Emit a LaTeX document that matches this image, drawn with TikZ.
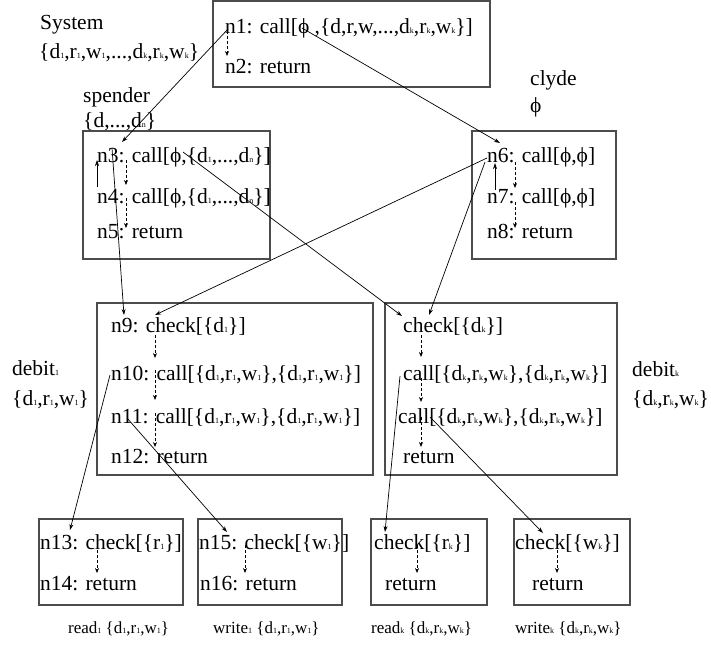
\documentclass[tikz,border=0pt]{standalone}
\usepackage{fontspec}
\setmainfont{Liberation Serif}
\usetikzlibrary{arrows.meta,calc}
\newcommand\sbx[1]{{\fontsize{8}{8}\selectfont #1}}
\newcommand\ph{ϕ}
\begin{document}
\begin{tikzpicture}[x=1pt,y=-1pt,
  txt/.style={anchor=base west,inner sep=0pt,font=\fontsize{21.5}{24}\selectfont},
  small/.style={anchor=base west,inner sep=0pt,font=\fontsize{17}{19}\selectfont},
  frame/.style={draw=black!70,line width=1.1pt,anchor=north west,inner sep=0pt,outer sep=0pt},
  link/.style={-{Stealth[length=6pt,width=4pt]},line width=0.7pt},
  seq/.style={-{Stealth[length=5pt,width=4pt]},dash pattern=on 3pt off 2pt,line width=0.7pt}]
\useasboundingbox (0,0) rectangle (711,646);

% boxes
\node[frame,minimum width=277pt,minimum height=86pt] (sysbox) at (213,1) {};
\node[frame,minimum width=187pt,minimum height=128pt] (spbox) at (83,131) {};
\node[frame,minimum width=144pt,minimum height=128pt] (clbox) at (472,131) {};
\node[frame,minimum width=276pt,minimum height=172pt] (dbabox) at (97,303) {};
\node[frame,minimum width=232pt,minimum height=172pt] (dbkbox) at (385,303) {};
\node[frame,minimum width=144pt,minimum height=86pt] (rdabox) at (39,519) {};
\node[frame,minimum width=144pt,minimum height=86pt] (wrabox) at (198,519) {};
\node[frame,minimum width=116pt,minimum height=86pt] (rdkbox) at (371,519) {};
\node[frame,minimum width=116pt,minimum height=86pt] (wrkbox) at (514,519) {};

% procedure names and their sets
\node[txt] (lsys) at (40,29) {System};
\node[txt] (lsysset) at (39,58) {\{d\sbx{1},r\sbx{1},w\sbx{1},...,d\sbx{k},r\sbx{k},w\sbx{k}\}};
\node[txt] (lsp) at (83,102) {spender};
\node[txt] (lspset) at (83,127) {\{d,...,d\sbx{n}\}};
\node[txt] (lcl) at (530,85) {clyde};
\node[txt] (lclset) at (530,112) {\ph};
\node[txt] (lda) at (12,375) {debit\sbx{1}};
\node[txt] (ldaset) at (12,405) {\{d\sbx{1},r\sbx{1},w\sbx{1}\}};
\node[txt] (ldk) at (632,376) {debit\sbx{k}};
\node[txt] (ldkset) at (632,405) {\{d\sbx{k},r\sbx{k},w\sbx{k}\}};
\node[small] (lra) at (68,633) {read\sbx{1} \{d\sbx{1},r\sbx{1},w\sbx{1}\}};
\node[small] (lwa) at (213,633) {write\sbx{1} \{d\sbx{1},r\sbx{1},w\sbx{1}\}};
\node[small] (lrk) at (371,633) {read\sbx{k} \{d\sbx{k},r\sbx{k},w\sbx{k}\}};
\node[small] (lwk) at (515,633) {write\sbx{k} \{d\sbx{k},r\sbx{k},w\sbx{k}\}};

% statements
\node[txt] (n1) at (225,33) {n1: call[\ph\ ,\{d,r,w,...,d\sbx{k},r\sbx{k},w\sbx{k}\}]};
\node[txt] (n2) at (225,73) {n2: return};
\node[txt] (n3) at (97,162) {n3: call[\ph,\{d\sbx{1},...,d\sbx{n}\}]};
\node[txt] (n4) at (97,203) {n4: call[\ph,\{d\sbx{1},...,d\sbx{n}\}]};
\node[txt] (n5) at (97,238) {n5: return};
\node[txt] (n6) at (487,162) {n6: call[\ph,\ph]};
\node[txt] (n7) at (487,203) {n7: call[\ph,\ph]};
\node[txt] (n8) at (487,238) {n8: return};
\node[txt] (n9) at (111,332) {n9: check[\{d\sbx{1}\}]};
\node[txt] (n10) at (111,380) {n10: call[\{d\sbx{1},r\sbx{1},w\sbx{1}\},\{d\sbx{1},r\sbx{1},w\sbx{1}\}]};
\node[txt] (n11) at (111,423) {n11: call[\{d\sbx{1},r\sbx{1},w\sbx{1}\},\{d\sbx{1},r\sbx{1},w\sbx{1}\}]};
\node[txt] (n12) at (111,463) {n12: return};
\node[txt] (kchk) at (403,332) {check[\{d\sbx{k}\}]};
\node[txt] (kcla) at (403,380) {call[\{d\sbx{k},r\sbx{k},w\sbx{k}\},\{d\sbx{k},r\sbx{k},w\sbx{k}\}]};
\node[txt] (kclb) at (398,423) {call[\{d\sbx{k},r\sbx{k},w\sbx{k}\},\{d\sbx{k},r\sbx{k},w\sbx{k}\}]};
\node[txt] (kret) at (403,463) {return};
\node[txt] (n13) at (40,549) {n13: check[\{r\sbx{1}\}]};
\node[txt] (n14) at (40,590) {n14: return};
\node[txt] (n15) at (199,549) {n15: check[\{w\sbx{1}\}]};
\node[txt] (n16) at (200,590) {n16: return};
\node[txt] (rkchk) at (374,549) {check[\{r\sbx{k}\}]};
\node[txt] (rkret) at (385,590) {return};
\node[txt] (wkchk) at (515,549) {check[\{w\sbx{k}\}]};
\node[txt] (wkret) at (532,590) {return};

% connector end points
\coordinate (p1s) at (228,29);  \coordinate (p1e) at (122,142);
\coordinate (p2s) at (302,28);  \coordinate (p2e) at (500,143);
\coordinate (p3s) at (112,148); \coordinate (p3e) at (124,315);
\coordinate (p4s) at (183,152); \coordinate (p4e) at (402,316);
\coordinate (p5s) at (487,158); \coordinate (p5e) at (155,315);
\coordinate (p6s) at (485,162); \coordinate (p6e) at (429,315);
\coordinate (p7s) at (110,375); \coordinate (p7e) at (70,530);
\coordinate (p8s) at (127,418); \coordinate (p8e) at (227,532);
\coordinate (p9s) at (400,376); \coordinate (p9e) at (385,532);
\coordinate (p10s) at (430,417); \coordinate (p10e) at (543,533);
\coordinate (b1s) at (97,187);  \coordinate (b1e) at (97,160);
\coordinate (b2s) at (495,190); \coordinate (b2e) at (495,163);

% calls into other procedures
\draw[link] (p1s) -- (p1e);
\draw[link] (p2s) -- (p2e);
\draw[link] (p3s) -- (p3e);
\draw[link] (p4s) -- (p4e);
\draw[link] (p5s) -- (p5e);
\draw[link] (p6s) -- (p6e);
\draw[link] (p7s) -- (p7e);
\draw[link] (p8s) -- (p8e);
\draw[link] (p9s) -- (p9e);
\draw[link] (p10s) -- (p10e);

% back edges of the recursive calls
\draw[link] (b1s) -- (b1e);
\draw[link] (b2s) -- (b2e);

% control flow inside each procedure
\coordinate (s1a) at (227,31);  \coordinate (s1b) at (227,56);
\draw[seq] (s1a) -- (s1b);
\coordinate (s2a) at (126,160); \coordinate (s2b) at (126,185);
\coordinate (s3a) at (126,198); \coordinate (s3b) at (126,228);
\draw[seq] (s2a) -- (s2b);
\draw[seq] (s3a) -- (s3b);
\coordinate (s4a) at (515,162); \coordinate (s4b) at (515,188);
\coordinate (s5a) at (515,202); \coordinate (s5b) at (515,228);
\draw[seq] (s4a) -- (s4b);
\draw[seq] (s5a) -- (s5b);
\coordinate (s6a) at (155,335); \coordinate (s6b) at (155,358);
\coordinate (s7a) at (155,370); \coordinate (s7b) at (155,400);
\coordinate (s8a) at (155,413); \coordinate (s8b) at (155,447);
\draw[seq] (s6a) -- (s6b);
\draw[seq] (s7a) -- (s7b);
\draw[seq] (s8a) -- (s8b);
\coordinate (s9a) at (421,335);  \coordinate (s9b) at (421,357);
\coordinate (s10a) at (421,378); \coordinate (s10b) at (421,402);
\coordinate (s11a) at (421,417); \coordinate (s11b) at (421,447);
\draw[seq] (s9a) -- (s9b);
\draw[seq] (s10a) -- (s10b);
\draw[seq] (s11a) -- (s11b);
\coordinate (s12a) at (97,545);  \coordinate (s12b) at (97,573);
\coordinate (s13a) at (245,545); \coordinate (s13b) at (245,573);
\coordinate (s14a) at (417,545); \coordinate (s14b) at (417,573);
\coordinate (s15a) at (557,545); \coordinate (s15b) at (557,573);
\draw[seq] (s12a) -- (s12b);
\draw[seq] (s13a) -- (s13b);
\draw[seq] (s14a) -- (s14b);
\draw[seq] (s15a) -- (s15b);
\end{tikzpicture}
\end{document}
